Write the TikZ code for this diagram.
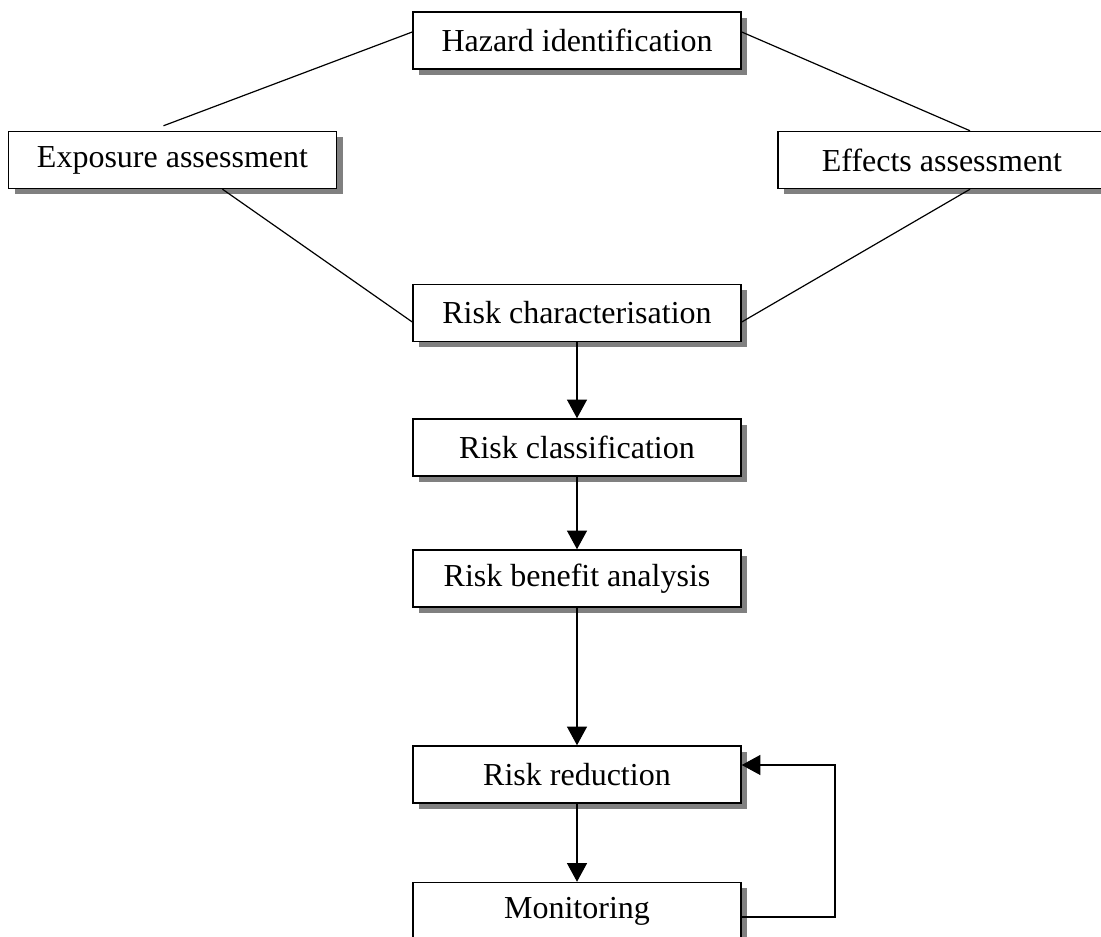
\documentclass[tikz,border=0pt]{standalone}
\usepackage{fontspec}
\setmainfont{Liberation Serif}
\usetikzlibrary{arrows.meta,shadows,calc}

\begin{document}
\begin{tikzpicture}
		[x=0.75pt, y=-0.75pt,
		block/.style ={rectangle, draw=black, line width=1.1pt, fill=white, minimum width=246pt, minimum height=42.75pt, inner sep=0pt,
		general shadow={fill=black!50, shadow xshift=4.5pt, shadow yshift=-4.5pt},
		font=\fontsize{24}{28}\selectfont},
		link/.style ={draw, line width=0.9pt},
		flow/.style ={link, -{Triangle[length=14pt,width=15pt]}},
		]
		\useasboundingbox (0,0) rectangle (1101,937);

		\draw (577,40.5) node[block] (HI) {Hazard identification};
		\draw (172.5,160) node[block] (EA) {Exposure assessment};
		\draw (942,160) node[block] (EF) {Effects assessment};
		\draw (577,313) node[block] (RC) {Risk characterisation};
		\draw (577,447.5) node[block] (RCL) {Risk classification};
		\draw (577,578.5) node[block] (RBA) {Risk benefit analysis};
		\draw (577,774.5) node[block] (RR) {Risk reduction};
		\draw (577,911) node[block] (MO) {Monitoring};

		\path[link]
		($(HI.west)+(0,-8.5)$) -- ($(EA.north)+(-9,-5)$)
		($(HI.east)+(0,-8.5)$) -- ($(EF.north)+(28,0)$)
		($(EA.south)+(50,0)$) -- ($(RC.west)+(0,9)$)
		($(EF.south)+(28,0)$) -- ($(RC.east)+(0,9)$);
		\path[flow]
		(RC) edge (RCL)
		(RCL) edge (RBA)
		(RBA) edge (RR)
		(RR) edge (MO);
		\draw[flow] ($(MO.east)+(0,6)$) -| (835,765) -- ($(RR.east)+(0,-9.5)$);
	\end{tikzpicture}
\end{document}
